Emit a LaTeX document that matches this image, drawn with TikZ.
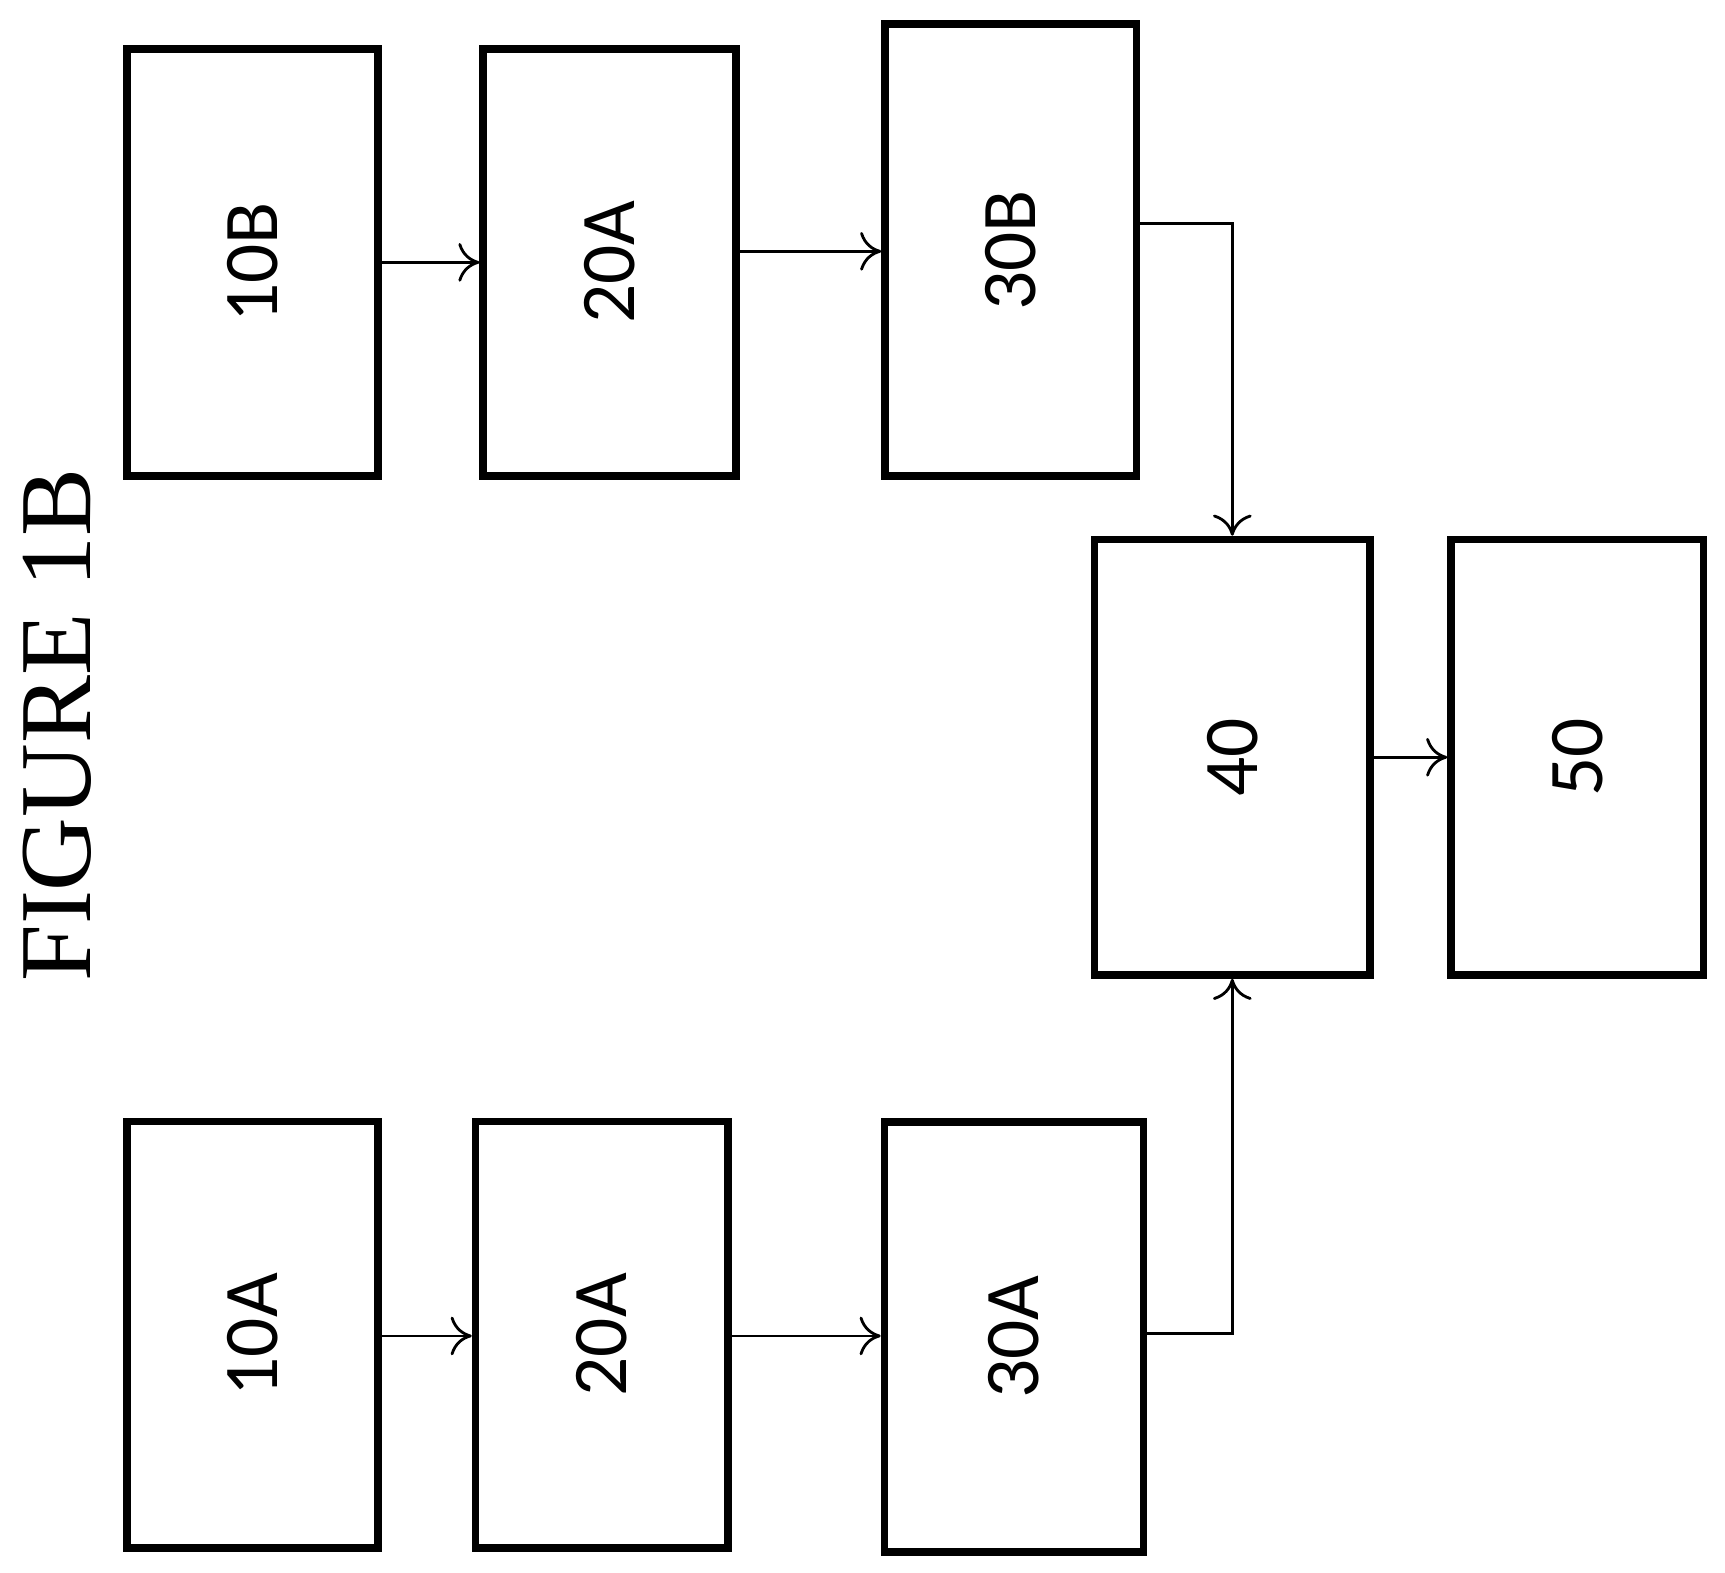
\documentclass[tikz,border=0pt]{standalone}
\usepackage{fontspec}
\setmainfont{Liberation Serif}
\setsansfont{Carlito}
\usetikzlibrary{arrows.meta, positioning, calc}

\begin{document}
\begin{tikzpicture}[x=0.01102cm, y=-0.01102cm,
    box/.style={draw, line width=2.2pt, rotate=90, font=\sffamily\fontsize{22}{26}\selectfont, inner sep=0pt},
    link/.style={-{To[length=6pt,width=11pt]}, line width=0.8pt}]
  \useasboundingbox (0,0) rectangle (1565,1427);

  % upper chain
  \node[box, minimum width=387*0.01102cm, minimum height=228*0.01102cm] (b10) at (229,238) {10B};
  \node[box, minimum width=387*0.01102cm, minimum height=229*0.01102cm] (b20) at (553,238) {20A};
  \node[box, minimum width=410*0.01102cm, minimum height=228*0.01102cm] (b30) at (917,227) {30B};

  % lower chain
  \node[box, minimum width=387*0.01102cm, minimum height=228*0.01102cm] (a10) at (229,1211) {10A};
  \node[box, minimum width=387*0.01102cm, minimum height=229*0.01102cm] (a20) at (546,1211) {20A};
  \node[box, minimum width=390*0.01102cm, minimum height=235*0.01102cm] (a30) at (920,1213) {30A};

  % merge
  \node[box, minimum width=395*0.01102cm, minimum height=250*0.01102cm] (n40) at (1118,687) {40};
  \node[box, minimum width=395*0.01102cm, minimum height=229*0.01102cm] (n50) at (1431,687) {50};

  \node[rotate=90, font=\fontsize{29}{33}\selectfont] (title) at (52,658) {FIGURE 1B};

  \draw[link] (b10.south |- 0,238) -- (b20.north |- 0,238);
  \draw[link] (b20.south |- 0,228) -- (b30.north |- 0,228);
  \draw[link] (b30.south |- 0,203) -| (n40.east);
  \draw[link] (a10.south |- 0,1212) -- (a20.north |- 0,1212);
  \draw[link] (a20.south |- 0,1212) -- (a30.north |- 0,1212);
  \draw[link] (a30.south |- 0,1210) -| (n40.west);
  \draw[link] (n40.south) -- (n50.north);
\end{tikzpicture}
\end{document}
